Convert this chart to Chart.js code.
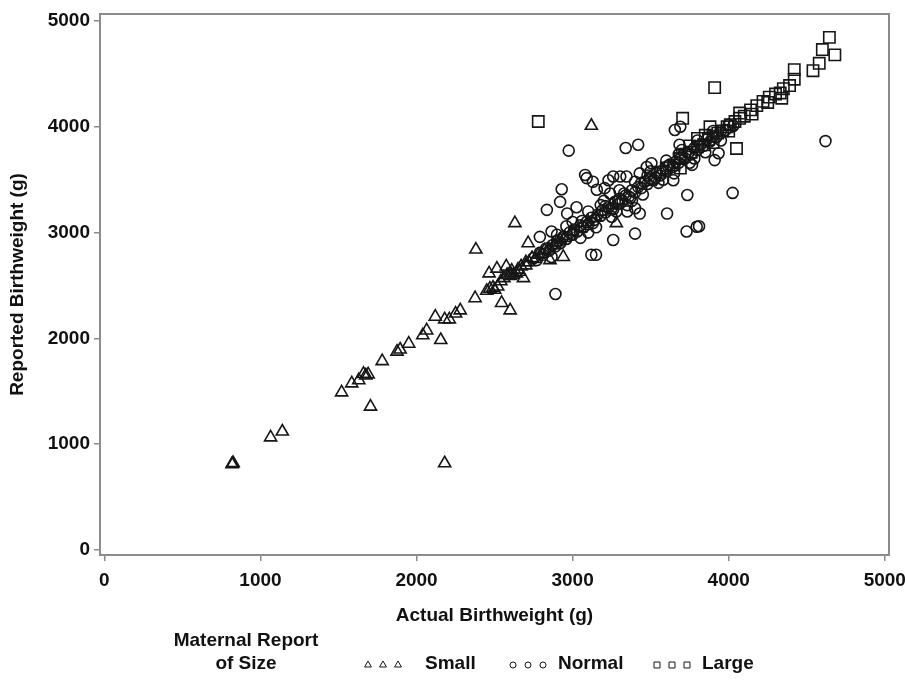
<!DOCTYPE html>
<html>
<head>
<meta charset="utf-8">
<script src="https://cdn.jsdelivr.net/npm/chart.js@4/dist/chart.umd.min.js"></script>
<style>
  html, body { margin: 0; padding: 0; background: #fff; }
  #wrap { width: 905px; height: 687px; }
</style>
</head>
<body>
<div id="wrap"><canvas id="myChart" width="905" height="687"></canvas></div>
<script>
const xTicks = [0, 1000, 2000, 3000, 4000, 5000];
const yTicks = [0, 1000, 2000, 3000, 4000, 5000];
const groupNames = ['Small', 'Normal', 'Large'];
const legendTitle = ['Maternal Report', 'of Size'];

// [actual, reported] in grams
const smallPoints = [
    [820, 815], [825, 822], [818, 812],
    [1065, 1065], [1140, 1120],
    [1520, 1490], [1585, 1575], [1630, 1605], [1660, 1665], [1675, 1650], [1690, 1660],
    [1705, 1355], [1780, 1785], [1875, 1875], [1895, 1895], [1950, 1950],
    [2040, 2030], [2065, 2075], [2155, 1985], [2120, 2205], [2180, 2180], [2210, 2180],
    [2250, 2235], [2280, 2265], [2180, 820],
    [2375, 2380], [2380, 2840], [2450, 2450], [2470, 2470], [2490, 2480], [2500, 2460],
    [2520, 2490], [2545, 2335], [2600, 2265], [2465, 2615], [2515, 2660], [2575, 2680],
    [2640, 2615], [2630, 3090], [2685, 2570], [2715, 2900],
    [2540, 2540], [2560, 2570], [2580, 2600], [2600, 2620], [2620, 2600], [2650, 2650],
    [2670, 2680], [2700, 2690], [2720, 2720], [2740, 2760], [2760, 2750], [2780, 2790],
    [2800, 2800], [2820, 2830], [2850, 2840], [2855, 2740], [2940, 2770], [2880, 2880],
    [2900, 2910], [2920, 2930], [2950, 2950], [2980, 2970], [3000, 3010], [3050, 3040],
    [3100, 3100], [3120, 4010], [3150, 3140], [3200, 3200], [3280, 3090], [3250, 3260],
    [3300, 3300], [2600, 2590], [2610, 2640], [2660, 2630], [2700, 2720]
];

const normalPoints = [
    [2890, 2420], [3120, 2790], [3150, 2790], [3260, 2930], [3400, 2990], [3730, 3010],
    [3810, 3060], [2975, 3775], [3340, 3800], [3420, 3830], [3655, 3970], [3690, 4000],
    [3080, 3545], [3090, 3515], [3130, 3480], [3155, 3405], [2930, 3410], [2920, 3290],
    [2835, 3215], [3025, 3240], [2965, 3180], [3230, 3495], [3260, 3530], [3305, 3530],
    [3345, 3530], [3205, 3420], [3240, 3370], [3430, 3560], [3475, 3620], [3505, 3655],
    [3645, 3495], [3735, 3355], [3605, 3180], [3430, 3180], [3400, 3230], [3795, 3055],
    [4620, 3865], [3910, 3685], [3935, 3750], [4025, 3375], [3765, 3640], [3685, 3830],
    [3350, 3200], [2790, 2960], [2865, 3010], [2865, 2770],
    [2750, 2760], [2770, 2740], [2790, 2810], [2810, 2790], [2830, 2850], [2850, 2830],
    [2870, 2880], [2890, 2870], [2900, 2920], [2920, 2900], [2940, 2960], [2960, 2940],
    [2980, 3000], [3000, 2980], [3010, 3030], [3030, 3010], [3050, 3070], [3070, 3050],
    [3090, 3100], [3100, 3080], [3120, 3140], [3140, 3120], [3160, 3170], [3180, 3160],
    [3190, 3210], [3210, 3190], [3230, 3240], [3250, 3230], [3270, 3290], [3290, 3270],
    [3300, 3320], [3320, 3300], [3340, 3350], [3360, 3340], [3380, 3400], [3400, 3380],
    [3420, 3430], [3440, 3420], [3460, 3480], [3480, 3460], [3500, 3510], [3520, 3500],
    [3540, 3560], [3560, 3540], [3580, 3590], [3600, 3580], [3620, 3640], [3640, 3620],
    [3660, 3670], [3680, 3660], [3700, 3720], [3720, 3700], [3740, 3750], [3760, 3740],
    [3780, 3800], [3800, 3780], [3820, 3830], [3840, 3820], [3860, 3880], [3880, 3860],
    [3900, 3910], [3920, 3900], [3950, 3960], [3980, 3970], [4000, 4020], [4030, 4010],
    [2900, 2980], [2960, 3060], [3050, 2950], [3100, 3200], [3150, 3050], [3200, 3300],
    [3250, 3150], [3300, 3400], [3350, 3260], [3400, 3480], [3450, 3360], [3500, 3580],
    [3550, 3470], [3600, 3680], [3650, 3560], [3700, 3780], [3750, 3660], [3800, 3870],
    [3850, 3760], [3900, 3960], [3950, 3870], [3000, 3100], [3100, 3000], [3180, 3260],
    [3280, 3200], [3380, 3300], [3480, 3540], [3580, 3500], [3680, 3740], [3780, 3700],
    [3060, 3110], [3130, 3090], [3210, 3250], [3260, 3220], [3330, 3370], [3370, 3330],
    [3440, 3470], [3530, 3520], [3610, 3630], [3690, 3700]
];

const largePoints = [
    [2780, 4050], [3705, 4080], [3910, 4370], [4050, 3795], [3880, 4000], [3690, 3610],
    [3500, 3500], [3560, 3570], [3600, 3610], [3650, 3640], [3690, 3700], [3720, 3740],
    [3760, 3760], [3800, 3810], [3840, 3830], [3870, 3880], [3900, 3910], [3930, 3940],
    [3960, 3960], [3990, 4000], [4010, 4020], [4040, 4050], [4070, 4080], [4070, 4130],
    [4100, 4100], [4140, 4160], [4180, 4200], [4220, 4240], [4260, 4280], [4300, 4310],
    [4330, 4320], [4340, 4270], [4350, 4360], [4390, 4390], [4420, 4450], [4420, 4540],
    [4540, 4530], [4580, 4600], [4600, 4730], [4645, 4845], [4680, 4680],
    [3800, 3890], [3850, 3920], [3750, 3820], [3900, 3850], [4000, 3960], [4150, 4120],
    [4250, 4230]
];

const markColor = '#161616';
const axisColor = '#8c8c8c';
const fontFamily = "'Liberation Sans', Arial, sans-serif";

function toXY(list) {
    return list.map(p => ({ x: p[0], y: p[1] }));
}

const frame = {
    id: 'frame',
    beforeDatasetsDraw(chart) {
        const { ctx, chartArea: a } = chart;
        ctx.save();
        ctx.strokeStyle = axisColor;
        ctx.lineWidth = 2;
        ctx.strokeRect(a.left, a.top, a.right - a.left, a.bottom - a.top);
        ctx.restore();
    }
};

const sasLegend = {
    id: 'sasLegend',
    afterDraw(chart) {
        const ctx = chart.ctx;
        ctx.save();
        ctx.fillStyle = '#111';
        ctx.font = 'bold 19px ' + fontFamily;
        ctx.textBaseline = 'middle';
        ctx.textAlign = 'center';
        ctx.fillText(legendTitle[0], 246, 641);
        ctx.fillText(legendTitle[1], 246, 664);

        const items = [
            { style: 'triangle', r: 4, x: 368, text: 425 },
            { style: 'circle', r: 3, x: 513, text: 558 },
            { style: 'rect', r: 4.2, x: 657, text: 702 }
        ];
        ctx.textAlign = 'left';
        items.forEach((it, i) => {
            for (let k = 0; k < 3; k++) {
                ctx.strokeStyle = markColor;
                ctx.fillStyle = 'rgba(0,0,0,0)';
                Chart.helpers.drawPoint(ctx, {
                    pointStyle: it.style, radius: it.r, rotation: 0, borderWidth: 1.2
                }, it.x + k * 15, 665);
            }
            ctx.fillStyle = '#111';
            ctx.fillText(groupNames[i], it.text, 664);
        });
        ctx.restore();
    }
};

function makeSet(label, list, style, radius) {
    return {
        label: label,
        data: toXY(list),
        pointStyle: style,
        pointRadius: radius,
        pointHoverRadius: radius,
        pointBorderWidth: 1.6,
        borderColor: markColor,
        backgroundColor: 'rgba(0,0,0,0)'
    };
}

const tickFont = { family: fontFamily, size: 19, weight: 'bold' };

const ctx = document.getElementById('myChart').getContext('2d');
const myChart = new Chart(ctx, {
    type: 'scatter',
    data: {
        datasets: [
            makeSet(groupNames[0], smallPoints, 'triangle', 7),
            makeSet(groupNames[1], normalPoints, 'circle', 5.5),
            makeSet(groupNames[2], largePoints, 'rect', 8)
        ]
    },
    options: {
        responsive: false,
        animation: false,
        devicePixelRatio: 1,
        layout: { padding: { top: 14, right: 16, bottom: 60, left: 0 } },
        plugins: {
            legend: { display: false },
            tooltip: { enabled: false }
        },
        scales: {
            x: {
                type: 'linear',
                min: -28,
                max: 5027,
                afterBuildTicks: s => { s.ticks = xTicks.map(v => ({ value: v })); },
                afterFit: s => { s.height = 72; s.paddingLeft = 0; s.paddingRight = 0; },
                grid: { drawOnChartArea: false, drawTicks: true, tickLength: 6, color: axisColor, lineWidth: 1.5 },
                border: { display: false },
                ticks: {
                    padding: 8,
                    color: '#111',
                    maxRotation: 0,
                    font: tickFont,
                    callback: v => String(v)
                },
                title: {
                    display: true,
                    text: 'Actual Birthweight (g)',
                    color: '#111',
                    padding: 0,
                    font: tickFont
                }
            },
            y: {
                type: 'linear',
                min: -47,
                max: 5066,
                afterBuildTicks: s => { s.ticks = yTicks.map(v => ({ value: v })); },
                afterFit: s => { s.width = 100; s.paddingTop = 0; s.paddingBottom = 0; },
                grid: { drawOnChartArea: false, drawTicks: true, tickLength: 6, color: axisColor, lineWidth: 1.5 },
                border: { display: false },
                ticks: {
                    padding: 4,
                    color: '#111',
                    font: tickFont,
                    callback: v => String(v)
                },
                title: {
                    display: true,
                    text: 'Reported Birthweight (g)',
                    color: '#111',
                    padding: { top: 6, bottom: 0 },
                    font: tickFont
                }
            }
        }
    },
    plugins: [frame, sasLegend]
});
</script>
</body>
</html>
